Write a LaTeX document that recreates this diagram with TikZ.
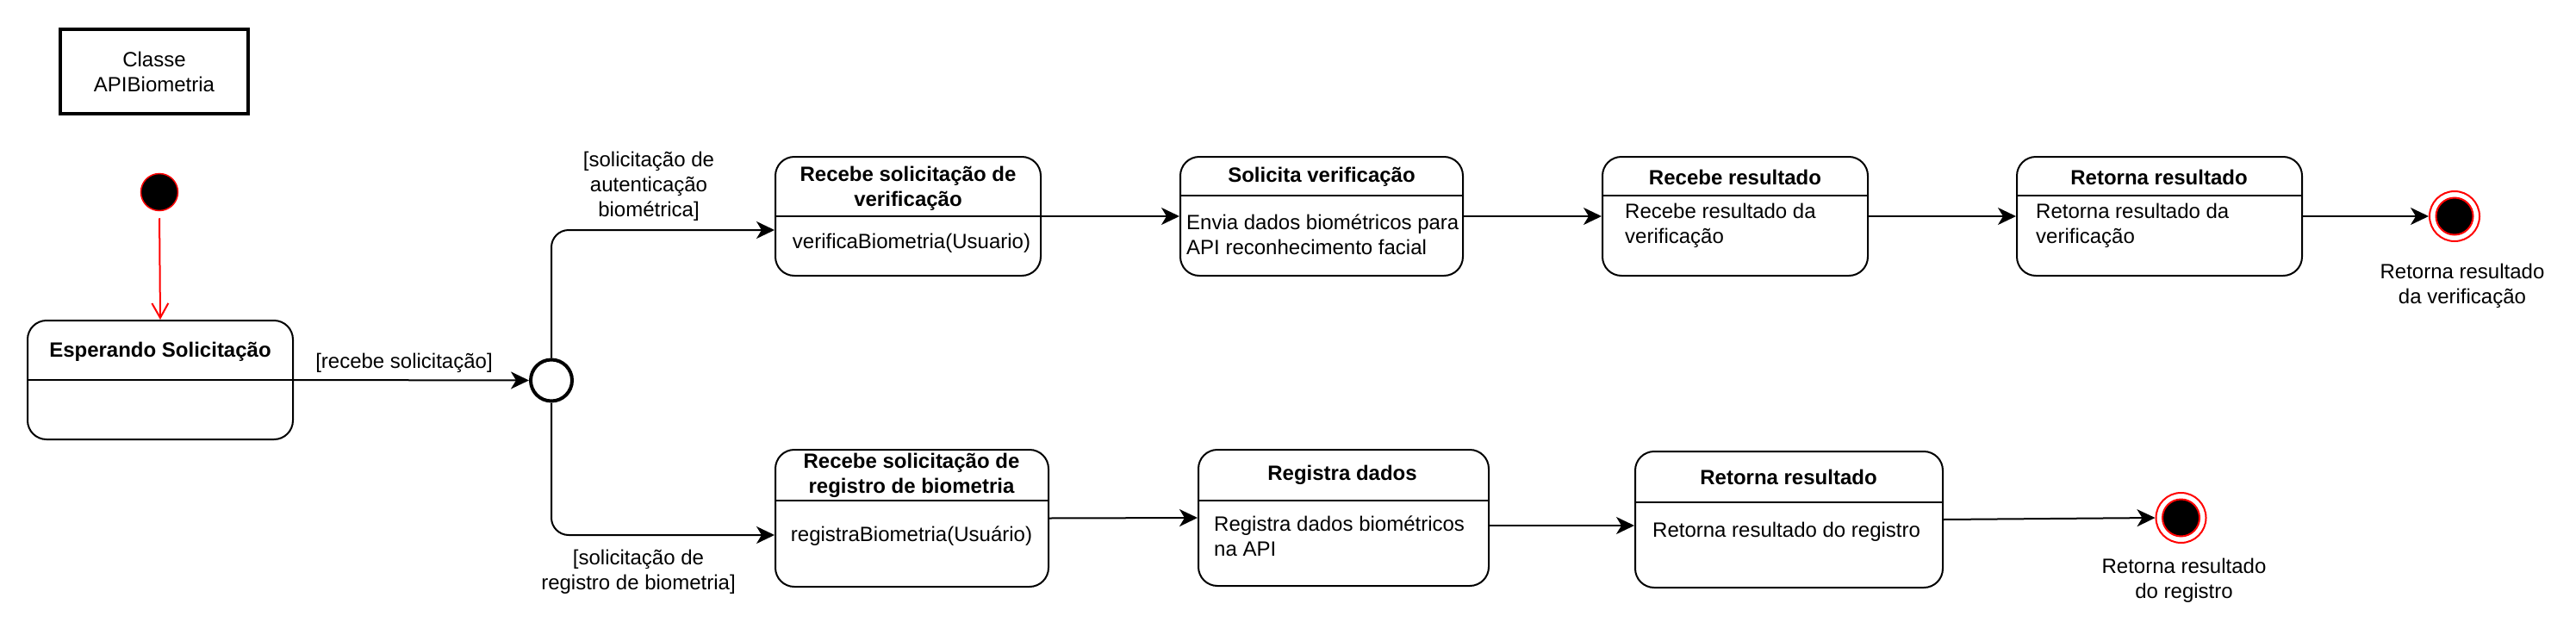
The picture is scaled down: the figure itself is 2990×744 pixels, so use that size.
\documentclass[tikz,border=0pt]{standalone}
\usepackage{fontspec}
\setmainfont{Liberation Sans}
\usetikzlibrary{arrows.meta,positioning}

\begin{document}
\begin{tikzpicture}[x=1pt, y=-1pt,
    every node/.style = {inner sep=0pt, font=\fontsize{24}{29}\selectfont},
    statebox/.style = {draw, line width=2pt, rounded corners=22pt},
    statetitle/.style = {font=\fontsize{24}{29}\selectfont\bfseries, align=center},
    bodytxt/.style = {align=left, anchor=west},
    guard/.style = {align=center},
    divider/.style = {line width=2pt},
    arr/.style = {-{Stealth[length=21pt, width=20pt, inset=6pt]}, line width=2pt},
    finalring/.style = {circle, draw=red, line width=2pt, fill=white, minimum size=58pt},
    finalcore/.style = {circle, draw=red, line width=2pt, fill=black, minimum size=43pt}]
  \useasboundingbox (0,0) rectangle (2990,744);

  \node[draw, line width=4pt, minimum width=218pt, minimum height=98pt, align=center] (cls) at (179,83) {Classe\\APIBiometria}; % class name
  \node[circle, draw=red, line width=1.5pt, fill=black, minimum size=43pt] (init) at (185,223) {}; % start
  \node[circle, draw, line width=4pt, fill=white, minimum size=48pt] (dec) at (640,441.5) {}; % choice

  % states
  \node[statebox, minimum width=308pt, minimum height=138pt] (esp) at (186,441) {} % waiting
  node[statebox, minimum width=308pt, minimum height=138pt] (rsv) at (1054,251) {} % top, first
  node[statebox, minimum width=328pt, minimum height=138pt] (sol) at (1534,251) {} % top, second
  node[statebox, minimum width=308pt, minimum height=138pt] (rres) at (2014,251) {} % top, third
  node[statebox, minimum width=331pt, minimum height=138pt] (ret) at (2506.5,251) {} % top, fourth
  node[statebox, minimum width=317pt, minimum height=159pt] (rsr) at (1058.5,601.5) {} % bottom, first
  node[statebox, minimum width=337pt, minimum height=158pt] (reg) at (1559.5,601) {} % bottom, second
  node[statebox, minimum width=357pt, minimum height=158pt] (ret2) at (2076.5,603) {}; % bottom, third

  \draw[divider] (esp.west) -- (esp.east);
  \draw[divider] (rsv.west) -- (rsv.east);
  \draw[divider] ([yshift=24pt]sol.west) -- ([yshift=24pt]sol.east);
  \draw[divider] ([yshift=24pt]rres.west) -- ([yshift=24pt]rres.east);
  \draw[divider] ([yshift=24pt]ret.west) -- ([yshift=24pt]ret.east);
  \draw[divider] ([yshift=20.5pt]rsr.west) -- ([yshift=20.5pt]rsr.east);
  \draw[divider] ([yshift=20pt]reg.west) -- ([yshift=20pt]reg.east);
  \draw[divider] ([yshift=20pt]ret2.west) -- ([yshift=20pt]ret2.east);

  % titles and bodies
  \node[statetitle] (espT) at (186,408) {Esperando Solicitação};
  \node[statetitle] (rsvT) at (1054,219) {Recebe solicitação de\\verificação};
  \node (rsvB) at (1058,282) {verificaBiometria(Usuario)};
  \node[statetitle] (solT) at (1534,205.5) {Solicita verificação};
  \node[bodytxt] (solB) at (1377,272) {Envia dados biométricos para\\API reconhecimento facial};
  \node[statetitle] (rresT) at (2014,206) {Recebe resultado};
  \node[bodytxt] (rresB) at (1886,262) {Recebe resultado da\\verificação};
  \node[statetitle] (retT) at (2506,206) {Retorna resultado};
  \node[bodytxt] (retB) at (2363,262) {Retorna resultado da\\verificação};
  \node[statetitle] (rsrT) at (1058,552) {Recebe solicitação de\\registro de biometria};
  \node (rsrB) at (1058,622) {registraBiometria(Usuário)};
  \node[statetitle] (regT) at (1558,551) {Registra dados};
  \node[bodytxt] (regB) at (1409,622) {Registra dados biométricos\\na API};
  \node[statetitle] (ret2T) at (2076,554) {Retorna resultado};
  \node[bodytxt] (ret2B) at (1918,617) {Retorna resultado do registro};

  % ends
  \node[finalring] (fin1) at (2849,251) {};
  \node[finalcore] (fin1c) at (2849,251) {};
  \node[finalring] (fin2) at (2531.5,601) {};
  \node[finalcore] (fin2c) at (2531.5,601) {};
  \node[guard] (fin1L) at (2858,331.5) {Retorna resultado\\da verificação};
  \node[guard] (fin2L) at (2535,674) {Retorna resultado\\do registro};

  % guards
  \node[guard] (g0) at (469,421) {[recebe solicitação]};
  \node[guard] (g1) at (753,216) {[solicitação de\\autenticação\\biométrica]};
  \node[guard] (g2) at (741,664) {[solicitação de\\registro de biometria]};

  \draw[red, line width=2pt, -{Straight Barb[length=17pt, width=19pt]}, shorten <=8pt] (init.south) -- (esp.north);
  \draw[arr] (esp.east) -- (dec.west);
  \draw[arr, rounded corners=20pt] (dec.north) |- ([yshift=-16pt]rsv.west);
  \draw[arr, rounded corners=20pt] (dec.south) |- ([yshift=-19.5pt]rsr.west);
  \draw[arr] (rsv.east) -- (sol.west);
  \draw[arr] (sol.east) -- (rres.west);
  \draw[arr] (rres.east) -- (ret.west);
  \draw[arr] (ret.east) -- (fin1.west);
  \draw[arr] (rsr.east) -- (reg.west);
  \draw[arr] ([yshift=-9pt]reg.east) -- ([yshift=-7pt]ret2.west);
  \draw[arr] (ret2.east) -- (fin2.west);
\end{tikzpicture}
\end{document}
